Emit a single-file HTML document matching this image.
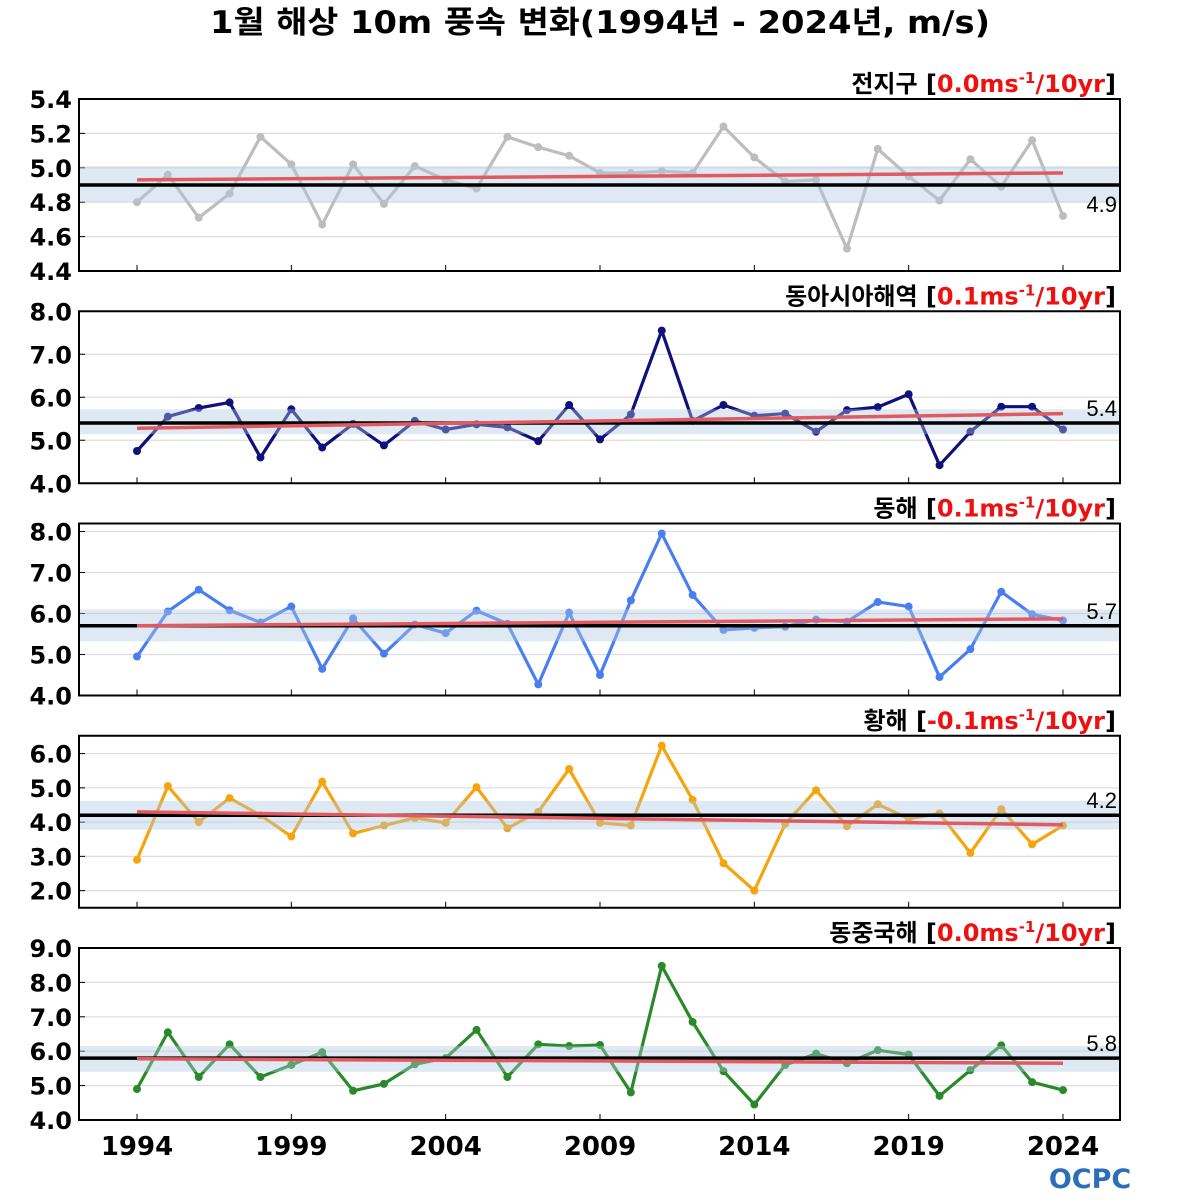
<!DOCTYPE html>
<html><head><meta charset="utf-8"><style>
html,body{margin:0;padding:0;background:#fff}
svg{display:block}
text{font-family:"DejaVu Sans","Noto Sans CJK KR",sans-serif}
</style></head><body>
<svg id="chart" width="1200" height="1200" viewBox="0 0 1200 1200" xmlns="http://www.w3.org/2000/svg">
<text x="600" y="33" text-anchor="middle" font-size="31" font-weight="bold" textLength="780" lengthAdjust="spacingAndGlyphs">1월 해상 10m 풍속 변화(1994년 - 2024년, m/s)</text>
<g id="panels"></g>
<text x="1090" y="1188" text-anchor="middle" font-size="27" font-weight="bold" fill="#2a6fb8">OCPC</text>
</svg>
<script>
const years = [];
for (let y = 1994; y <= 2024; y++) years.push(y);
const xTickLabels = [1994, 1999, 2004, 2009, 2014, 2019, 2024];
const names = ["전지구", "동아시아해역", "동해", "황해", "동중국해"];
const trendLabels = ["0.0", "0.1", "0.1", "-0.1", "0.0"];
const globalVals = [4.80,4.96,4.71,4.85,5.18,5.02,4.67,5.02,4.79,5.01,4.93,4.88,5.18,5.12,5.07,4.97,4.97,4.98,4.97,5.24,5.06,4.92,4.93,4.53,5.11,4.95,4.81,5.05,4.89,5.16,4.72];
const eastAsiaVals = [4.75,5.55,5.75,5.88,4.6,5.72,4.83,5.38,4.88,5.45,5.25,5.37,5.3,4.98,5.82,5.02,5.6,7.55,5.45,5.82,5.57,5.62,5.2,5.7,5.77,6.07,4.42,5.2,5.78,5.78,5.25];
const eastSeaVals = [4.95,6.05,6.58,6.08,5.78,6.17,4.65,5.88,5.02,5.73,5.52,6.07,5.75,4.27,6.02,4.5,6.32,7.95,6.45,5.6,5.65,5.68,5.85,5.8,6.28,6.17,4.45,5.13,6.53,5.98,5.83];
const yellowSeaVals = [2.9,5.05,4.0,4.7,4.2,3.58,5.18,3.67,3.9,4.12,3.98,5.02,3.82,4.3,5.55,3.98,3.9,6.23,4.65,2.8,2.0,3.95,4.93,3.88,4.52,4.1,4.25,3.1,4.38,3.35,3.9];
const ecsVals = [4.9,6.55,5.25,6.2,5.25,5.6,5.97,4.85,5.05,5.62,5.8,6.62,5.25,6.2,6.15,6.18,4.8,8.48,6.85,5.42,4.45,5.6,5.93,5.65,6.03,5.9,4.7,5.45,6.17,5.1,4.87];
const seriesVals = [globalVals, eastAsiaVals, eastSeaVals, yellowSeaVals, ecsVals];
const means = [4.9, 5.4, 5.7, 4.2, 5.8];
const bandLo = [4.8, 5.14, 5.32, 3.78, 5.4];
const bandHi = [5.01, 5.72, 6.1, 4.62, 6.15];
const trendStart = [4.93, 5.28, 5.7, 4.3, 5.78];
const trendEnd = [4.97, 5.62, 5.87, 3.92, 5.65];
const yTicks = [[4.4,4.6,4.8,5.0,5.2,5.4],[4,5,6,7,8],[4,5,6,7,8],[2,3,4,5,6],[4,5,6,7,8,9]];
const yMin = [4.4, 4.0, 4.0, 1.5, 4.0];
const yMax = [5.4, 8.0, 8.195, 6.52, 9.0];
const colors = ["#bdbdbd", "#10107a", "#4a7ef0", "#f5a40c", "#2a8a2a"];

const NS = "http://www.w3.org/2000/svg";
const g = document.getElementById("panels");
const L = 79, R = 1120;
const xOf = yr => 137 + (yr - 1994) * (1063 - 137) / 30;
function mk(tag, attrs, parent) {
  const e = document.createElementNS(NS, tag);
  for (const k in attrs) e.setAttribute(k, attrs[k]);
  (parent || g).appendChild(e);
  return e;
}
for (let p = 0; p < 5; p++) {
  const top = 99 + p * 212.25, bot = top + 172;
  const yOf = v => bot - (v - yMin[p]) / (yMax[p] - yMin[p]) * (bot - top);
  const pg = mk("g", {});
  
  
  yTicks[p].forEach(v => {
    const ln = mk("line", {x1: L, x2: R, y1: yOf(v), y2: yOf(v), stroke: "#dddddd", "stroke-width": 1.2}, pg);
    
    
    const tk = mk("line", {x1: L, x2: L + 6, y1: yOf(v), y2: yOf(v), stroke: "#000", "stroke-width": 1}, pg);
    
    
    const t = mk("text", {x: 72, y: yOf(v) + 9, "text-anchor": "end", "font-size": 24, "font-weight": "bold"}, pg);
    
    
    t.textContent = v.toFixed(1);
  });
  xTickLabels.forEach(yr => {
    const tk = mk("line", {x1: xOf(yr), x2: xOf(yr), y1: bot, y2: bot - 6, stroke: "#000", "stroke-width": 1}, pg);
    
    
  });
  const vals = seriesVals[p];
  const pts = vals.map((v, i) => xOf(years[i]) + "," + yOf(v)).join(" ");
  const pl = mk("polyline", {points: pts, fill: "none", stroke: colors[p], "stroke-width": 3.2, "stroke-linejoin": "round"}, pg);
  
  
  vals.forEach((v, i) => {
    const c = mk("circle", {cx: xOf(years[i]), cy: yOf(v), r: 4, fill: colors[p]}, pg);
    
    
  });
  const b = mk("rect", {x: L, y: yOf(bandHi[p]), width: R - L, height: yOf(bandLo[p]) - yOf(bandHi[p]), fill: "rgba(176,200,225,0.4)"}, pg);
  
  
  const m = mk("line", {x1: L, x2: R, y1: yOf(means[p]), y2: yOf(means[p]), stroke: "#000", "stroke-width": 3.5}, pg);
  
  
  const ml = mk("text", {x: 1117, y: p === 0 ? yOf(means[p]) + 27 : yOf(means[p]) - 7, "text-anchor": "end", "font-size": 22, style: "font-family:'Liberation Sans',sans-serif"}, pg);
  
  
  ml.textContent = means[p].toFixed(1);
  const tr = mk("line", {x1: xOf(1994), x2: xOf(2024), y1: yOf(trendStart[p]), y2: yOf(trendEnd[p]), stroke: "#e05a5f", "stroke-width": 3.5}, pg);
  
  
  const fr = mk("rect", {x: L, y: top, width: R - L, height: bot - top, fill: "none", stroke: "#000", "stroke-width": 2}, pg);
  
  
  const tt = mk("text", {x: 1116, y: top - 7, "text-anchor": "end", "font-size": 24, "font-weight": "bold"}, pg);
  
  
  const s1 = mk("tspan", {}, tt); s1.textContent = names[p] + " [";
  const s2 = mk("tspan", {fill: "#ee1111"}, tt); s2.textContent = trendLabels[p] + "ms";
  const s3 = mk("tspan", {fill: "#ee1111", "font-size": 15, dy: -9}, tt); s3.textContent = "-1";
  const s4 = mk("tspan", {fill: "#ee1111", dy: 9}, tt); s4.textContent = "/10yr";
  const s5 = mk("tspan", {}, tt); s5.textContent = "]";
}
xTickLabels.forEach(yr => {
  const t = mk("text", {x: xOf(yr), y: 1155, "text-anchor": "middle", "font-size": 26, "font-weight": "bold"});
  
  
  t.textContent = yr;
});
</script>
</body></html>
